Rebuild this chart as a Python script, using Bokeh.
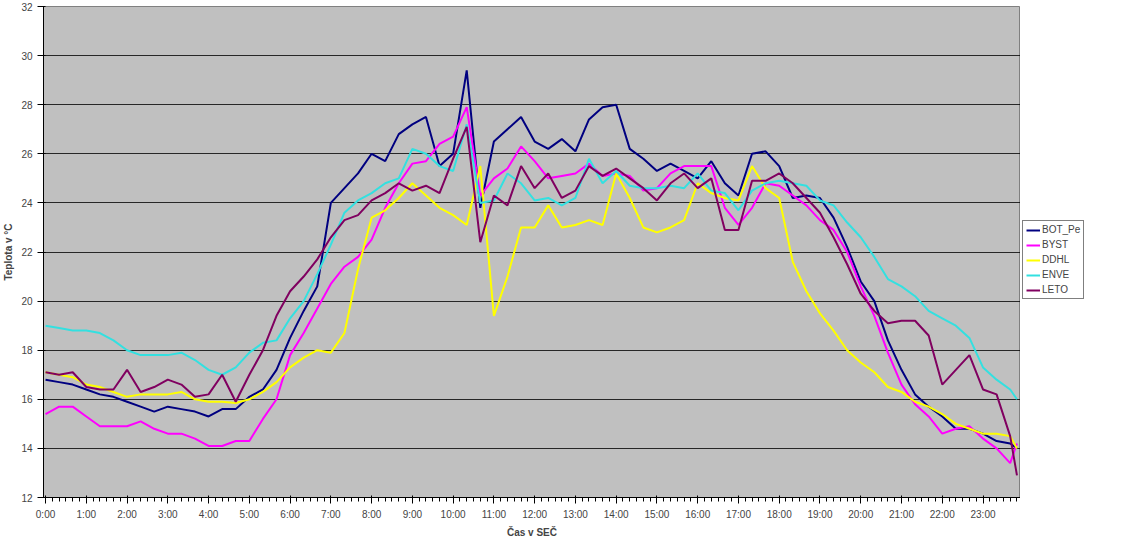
from bokeh.plotting import figure
from bokeh.layouts import row
from bokeh.models import FixedTicker, Legend, LegendItem, Range1d
from bokeh.embed import file_html
from bokeh.resources import INLINE

# time in hours, every 20 min, plus 23:50
hours = [i / 3 for i in range(72)] + [23 + 5 / 6]

bot_pe = [16.8, 16.7, 16.6, 16.4, 16.2, 16.1, 15.9, 15.7, 15.5, 15.7, 15.6, 15.5,
          15.3, 15.6, 15.6, 16.1, 16.4, 17.2, 18.5, 19.6, 20.6, 24.0, 24.6, 25.2,
          26.0, 25.7, 26.8, 27.2, 27.5, 25.5, 26.0, 29.4, 23.8, 26.5, 27.0, 27.5,
          26.5, 26.2, 26.6, 26.1, 27.4, 27.9, 28.0, 26.2, 25.8, 25.3, 25.6, 25.3,
          25.0, 25.7, 24.8, 24.3, 26.0, 26.1, 25.5, 24.2, 24.3, 24.2, 23.4, 22.2,
          20.8, 20.0, 18.4, 17.2, 16.2, 15.7, 15.3, 14.8, 14.8, 14.6, 14.3, 14.2, 14.0]
byst = [15.4, 15.7, 15.7, 15.3, 14.9, 14.9, 14.9, 15.1, 14.8, 14.6, 14.6, 14.4,
        14.1, 14.1, 14.3, 14.3, 15.2, 16.0, 17.8, 18.7, 19.7, 20.7, 21.4, 21.8,
        22.5, 23.8, 24.8, 25.6, 25.7, 26.4, 26.7, 27.9, 24.3, 25.0, 25.4, 26.3,
        25.7, 25.0, 25.1, 25.2, 25.6, 25.1, 25.2, 25.1, 24.5, 24.6, 25.2, 25.5,
        25.5, 25.5, 23.8, 23.1, 23.8, 24.8, 24.7, 24.3, 23.9, 23.3, 22.9, 22.0,
        20.6, 19.4, 17.9, 16.6, 15.8, 15.3, 14.6, 14.8, 14.9, 14.4, 14.0, 13.4, 14.2]
ddhl = [17.1, 17.0, 16.9, 16.6, 16.5, 16.3, 16.1, 16.2, 16.2, 16.2, 16.3, 16.0,
        15.9, 15.9, 15.85, 16.0, 16.3, 16.7, 17.3, 17.7, 18.0, 17.9, 18.7, 21.3,
        23.4, 23.7, 24.2, 24.8, 24.3, 23.8, 23.5, 23.1, 25.5, 19.4, 21.0, 23.0,
        23.0, 23.9, 23.0, 23.1, 23.3, 23.1, 25.2, 24.2, 23.0, 22.8, 23.0, 23.3,
        24.8, 24.4, 24.2, 24.1, 25.5, 24.6, 24.2, 21.6, 20.4, 19.5, 18.8, 18.0,
        17.5, 17.1, 16.5, 16.3, 15.9, 15.7, 15.4, 15.0, 14.8, 14.6, 14.6, 14.5, 14.0]
enve = [19.0, 18.9, 18.8, 18.8, 18.7, 18.4, 18.0, 17.8, 17.8, 17.8, 17.9, 17.6,
        17.2, 17.0, 17.3, 17.9, 18.3, 18.4, 19.3, 20.0, 21.1, 22.3, 23.6, 24.1,
        24.4, 24.8, 25.0, 26.2, 26.0, 25.5, 25.3, 27.2, 24.0, 24.1, 25.2, 24.8,
        24.1, 24.2, 23.9, 24.2, 25.8, 24.8, 25.3, 24.7, 24.6, 24.6, 24.7, 24.6,
        25.2, 24.5, 24.4, 23.7, 24.5, 24.8, 24.9, 24.8, 24.7, 24.1, 23.9, 23.2,
        22.6, 21.8, 20.9, 20.6, 20.2, 19.6, 19.3, 19.0, 18.5, 17.3, 16.8, 16.4, 16.0]
leto = [17.1, 17.0, 17.1, 16.5, 16.4, 16.4, 17.2, 16.3, 16.5, 16.8, 16.6, 16.1,
        16.2, 17.0, 15.9, 17.0, 18.0, 19.4, 20.4, 21.0, 21.7, 22.6, 23.3, 23.5,
        24.1, 24.4, 24.8, 24.5, 24.7, 24.4, 25.8, 27.1, 22.4, 24.3, 23.9, 25.5,
        24.6, 25.2, 24.2, 24.5, 25.5, 25.1, 25.4, 25.0, 24.6, 24.1, 24.8, 25.2,
        24.6, 25.0, 22.9, 22.9, 24.9, 24.9, 25.2, 24.8, 24.2, 23.6, 22.6, 21.5,
        20.3, 19.6, 19.1, 19.2, 19.2, 18.6, 16.6, 17.2, 17.8, 16.4, 16.2, 14.5, 12.9]

series = [("BOT_Pe", bot_pe, "#000080"), ("BYST", byst, "#FF00FF"),
          ("DDHL", ddhl, "#FFFF00"), ("ENVE", enve, "#33E0E0"),
          ("LETO", leto, "#800060")]

p = figure(width=1020, height=540, output_backend="svg", toolbar_location=None,
           x_range=Range1d(-0.05, 23.92), y_range=Range1d(12, 32),
           x_axis_label="Čas v SEČ", y_axis_label="Teplota v °C",
           min_border_top=6, min_border_left=37, min_border_right=0, min_border_bottom=10)
p.background_fill_color = "#C0C0C0"
p.outline_line_color = "#808080"
p.xgrid.visible = False
p.ygrid.grid_line_color = "black"
p.ygrid.grid_line_alpha = 0.8

p.xaxis.ticker = FixedTicker(ticks=list(range(24)), minor_ticks=[i / 6 for i in range(144)])
p.xaxis.major_label_overrides = {i: f"{i}:00" for i in range(24)}
p.yaxis.ticker = FixedTicker(ticks=list(range(12, 33, 2)))
for ax in (p.xaxis, p.yaxis):
    ax.major_label_text_font = "Arial"
    ax.major_label_text_font_size = "10px"
    ax.axis_label_text_font = "Arial"
    ax.axis_label_text_font_size = "10px"
    ax.axis_label_text_font_style = "bold"
    ax.axis_label_standoff = 4
p.yaxis.minor_tick_line_color = None

for name, vals, col in series:
    p.line(hours, vals, color=col, line_width=2)

# legend lives in a narrow side figure; its lines sit outside the visible range
lg = figure(width=95, height=540, output_backend="svg", toolbar_location=None,
            min_border=0, x_range=Range1d(0, 1), y_range=Range1d(0, 1))
lg.axis.visible = False
lg.grid.visible = False
lg.outline_line_color = None
items = []
for name, vals, col in series:
    r = lg.line(hours[:2], vals[:2], color=col, line_width=2)
    items.append(LegendItem(label=name, renderers=[r]))
legend = Legend(items=items, location=(2, 198), label_text_font="Arial",
                label_text_font_size="10px", glyph_width=14, glyph_height=10,
                label_height=10, spacing=4, padding=3, margin=0,
                border_line_color="black", label_standoff=2)
lg.add_layout(legend, "center")

open("out.html", "w").write(file_html(row(p, lg), INLINE))
